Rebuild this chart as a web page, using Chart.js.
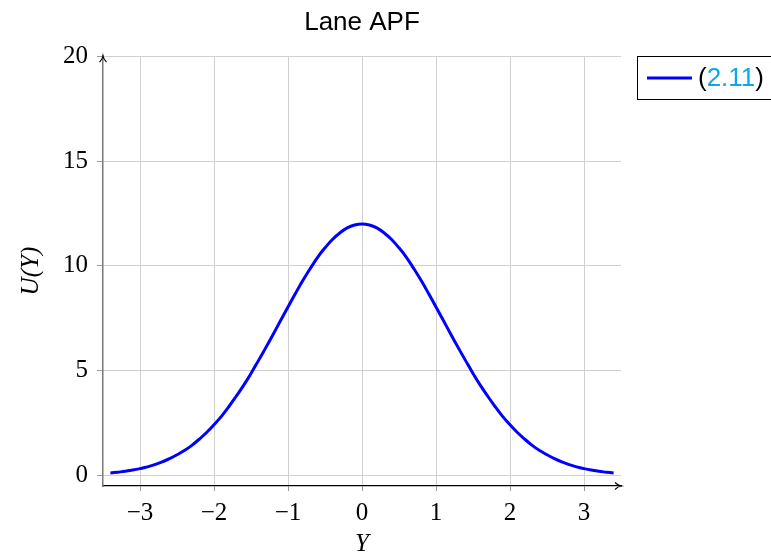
<!DOCTYPE html>
<html>
<head>
<meta charset="utf-8">
<script src="https://cdn.jsdelivr.net/npm/chart.js@4"></script>
<style>
    html, body { margin: 0; padding: 0; background: #fff; }
    #wrap { width: 771px; height: 559px; }
</style>
</head>
<body>
<div id="wrap"><canvas id="lane-chart" width="771" height="559"></canvas></div>
<script>
// values
const yValues = [-3.4, -3.3, -3.2, -3.1, -3.0, -2.9, -2.8, -2.7, -2.6, -2.5, -2.4, -2.3, -2.2, -2.1, -2.0, -1.9, -1.8,
    -1.7, -1.6, -1.5, -1.4, -1.3, -1.2, -1.1, -1.0, -0.9, -0.8, -0.7, -0.6, -0.5, -0.4, -0.3, -0.2, -0.1,
    0, 0.1, 0.2, 0.3, 0.4, 0.5, 0.6, 0.7, 0.8, 0.9, 1.0, 1.1, 1.2, 1.3, 1.4, 1.5, 1.6, 1.7,
    1.8, 1.9, 2.0, 2.1, 2.2, 2.3, 2.4, 2.5, 2.6, 2.7, 2.8, 2.9, 3.0, 3.1, 3.2, 3.3, 3.4];
const uValues = [0.12, 0.16, 0.2, 0.26, 0.33, 0.41, 0.52, 0.65, 0.81, 0.99, 1.19, 1.44, 1.73, 2.05, 2.42, 2.82, 3.28,
    3.78, 4.3, 4.87, 5.48, 6.1, 6.74, 7.39, 8.04, 8.68, 9.3, 9.87, 10.41, 10.86, 11.26, 11.57, 11.81, 11.95,
    12.0, 11.95, 11.81, 11.57, 11.26, 10.86, 10.41, 9.87, 9.3, 8.68, 8.04, 7.39, 6.74, 6.1, 5.48, 4.87, 4.3, 3.78,
    3.28, 2.82, 2.42, 2.05, 1.73, 1.44, 1.19, 0.99, 0.81, 0.65, 0.52, 0.41, 0.33, 0.26, 0.2, 0.16, 0.12];
const xTicks = [-3, -2, -1, 0, 1, 2, 3];
const yTicks = [0, 5, 10, 15, 20];
const seriesLabel = '(2.11)';

const points = yValues.map((x, i) => ({x: x, y: uValues[i]}));
const serif = "'Liberation Serif', 'DejaVu Serif', serif";
const sans = "'Liberation Sans', Arial, sans-serif";

function minus(v) {
    return v < 0 ? '\u2212' + Math.abs(v) : String(v);
}

// arrows on the axes and the framed legend at the top right
const axisExtras = {
    id: 'axisExtras',
    afterDraw(chart) {
        const c = chart.ctx;
        const a = chart.chartArea;
        c.save();
        // x arrow
        c.strokeStyle = '#000';
        c.lineWidth = 1.2;
        c.beginPath();
        c.moveTo(a.right - 6, a.bottom - 3.5);
        c.quadraticCurveTo(a.right - 3, a.bottom - 0.5, a.right, a.bottom);
        c.quadraticCurveTo(a.right - 3, a.bottom + 0.5, a.right - 6, a.bottom + 3.5);
        c.stroke();
        // y arrow
        c.beginPath();
        c.moveTo(a.left - 3.5, a.top + 6);
        c.quadraticCurveTo(a.left - 0.5, a.top + 3, a.left, a.top);
        c.quadraticCurveTo(a.left + 0.5, a.top + 3, a.left + 3.5, a.top + 6);
        c.stroke();

        // legend
        const ds = chart.data.datasets[0];
        c.lineWidth = 1;
        c.strokeStyle = '#000';
        c.strokeRect(637.5, 56.5, 150, 43);
        c.strokeStyle = ds.borderColor;
        c.lineWidth = 3;
        c.beginPath();
        c.moveTo(647, 78);
        c.lineTo(692, 78);
        c.stroke();
        c.font = '26px ' + sans;
        c.textBaseline = 'middle';
        let x = 698;
        const parts = [['(', '#000'], [ds.label.slice(1, -1), '#0fa8e6'], [')', '#000']];
        parts.forEach(p => {
            c.fillStyle = p[1];
            c.fillText(p[0], x, 79);
            x += c.measureText(p[0]).width;
        });
        c.restore();
    }
};

document.addEventListener("DOMContentLoaded", function () {
    const ctx = document.getElementById('lane-chart');

    new Chart(ctx, {
        type: 'line',
        data: {
            datasets: [{
                label: seriesLabel,
                data: points,
                borderColor: '#0000ff',
                borderWidth: 3,
                pointRadius: 0,
                fill: false,
                tension: 0.4
            }]
        },
        options: {
            responsive: false,
            animation: false,
            layout: {
                padding: {top: 0, right: 150, left: 0, bottom: 0}
            },
            plugins: {
                legend: {display: false},
                tooltip: {enabled: false},
                title: {
                    display: true,
                    fullSize: false,
                    text: 'Lane APF',
                    color: '#000',
                    font: {family: sans, size: 26, weight: 'normal'},
                    padding: {top: 7, bottom: 18}
                }
            },
            scales: {
                x: {
                    type: 'linear',
                    min: -3.5,
                    max: 3.5,
                    afterBuildTicks: s => { s.ticks = xTicks.map(v => ({value: v})); },
                    afterFit: s => { s.height = 73; },
                    grid: {color: '#d0d0d0', lineWidth: 1, tickLength: 5, tickColor: '#999'},
                    border: {color: '#000', width: 1.3},
                    ticks: {
                        color: '#000',
                        font: {family: serif, size: 25},
                        padding: 7,
                        maxRotation: 0,
                        callback: v => minus(v)
                    },
                    title: {
                        display: true,
                        text: 'Y',
                        color: '#000',
                        font: {family: serif, size: 25, style: 'italic'},
                        padding: {top: 0, bottom: 0}
                    }
                },
                y: {
                    min: -0.5,
                    max: 20,
                    afterBuildTicks: s => { s.ticks = yTicks.map(v => ({value: v})); },
                    afterFit: s => { s.width = 103; },
                    grid: {color: '#d0d0d0', lineWidth: 1, tickLength: 6, tickColor: '#999'},
                    border: {color: '#777', width: 1.5},
                    ticks: {
                        color: '#000',
                        font: {family: serif, size: 25},
                        padding: 9
                    },
                    title: {
                        display: true,
                        text: 'U(Y)',
                        color: '#000',
                        font: {family: serif, size: 25, style: 'italic'},
                        padding: {top: 16, bottom: 8}
                    }
                }
            }
        },
        plugins: [axisExtras]
    });
});
</script>
</body>
</html>
